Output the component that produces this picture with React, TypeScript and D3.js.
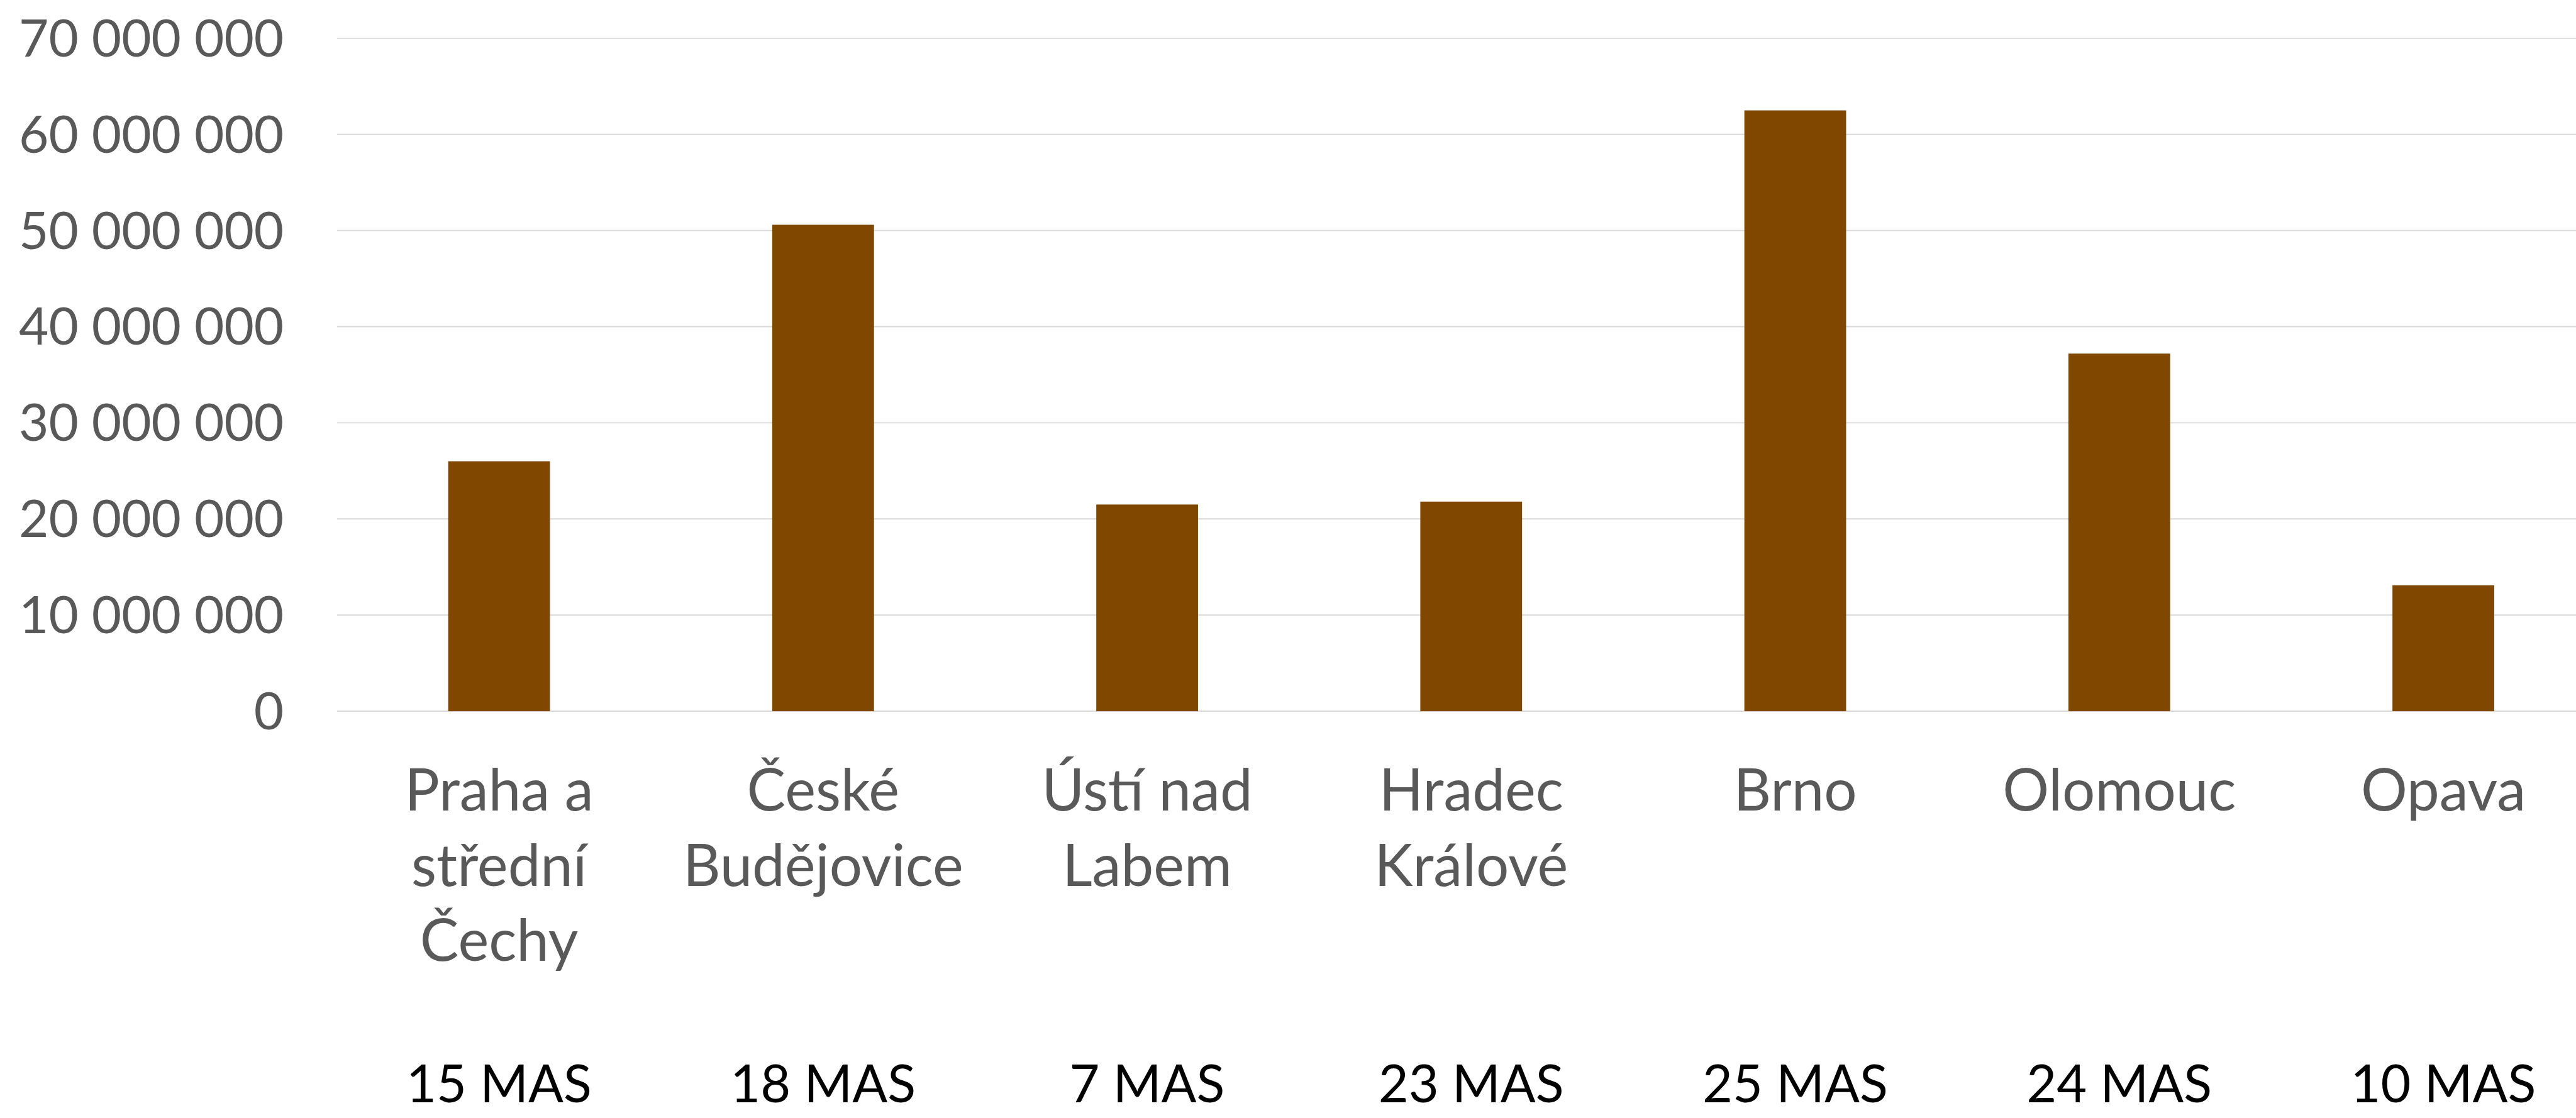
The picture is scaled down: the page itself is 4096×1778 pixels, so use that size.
import { useEffect, useRef } from "react";
import * as d3 from "d3";

// data
const categories = [
  "Praha a střední Čechy",
  "České Budějovice",
  "Ústí nad Labem",
  "Hradec Králové",
  "Brno",
  "Olomouc",
  "Opava",
];
const categoryLines = [
  ["Praha a", "střední", "Čechy"],
  ["České", "Budějovice"],
  ["Ústí nad", "Labem"],
  ["Hradec", "Králové"],
  ["Brno"],
  ["Olomouc"],
  ["Opava"],
];
const values = [26.0e6, 50.6e6, 21.5e6, 21.8e6, 62.5e6, 37.2e6, 13.1e6];
const masLabels = ["15 MAS", "18 MAS", "7 MAS", "23 MAS", "25 MAS", "24 MAS", "10 MAS"];
const yTicks = [0, 10e6, 20e6, 30e6, 40e6, 50e6, 60e6, 70e6];

const W = 4096;
const H = 1778;
const S = W / 4257; // drawn in reference units, then scaled down

export default function App() {
  const ref = useRef<SVGSVGElement>(null);

  useEffect(() => {
    const svg = d3.select(ref.current);
    svg.selectAll("*").remove();

    const margin = { top: 63.3, left: 557, bottom: 1175.5, right: 4305.5 };
    const font = "Lato, 'Open Sans', sans-serif";
    const grey = "#595959";

    const g = svg.append("g").attr("transform", `scale(${S})`);

    const x = d3
      .scaleBand()
      .domain(categories)
      .range([margin.left, margin.right])
      .paddingInner(0.686)
      .paddingOuter(0.343);

    const y = d3.scaleLinear().domain([0, 70e6]).range([margin.bottom, margin.top]);

    const fmt = d3.formatLocale({
      decimal: ",",
      thousands: " ",
      grouping: [3],
      currency: ["", ""],
    }).format(",d");

    // gridlines
    g.append("g")
      .selectAll("line")
      .data(yTicks)
      .enter()
      .append("line")
      .attr("x1", margin.left)
      .attr("x2", margin.right)
      .attr("y1", (d) => y(d))
      .attr("y2", (d) => y(d))
      .attr("stroke", "#d9d9d9")
      .attr("stroke-width", 2);

    // y labels
    g.append("g")
      .selectAll("text")
      .data(yTicks)
      .enter()
      .append("text")
      .attr("x", 469)
      .attr("y", (d) => y(d) + 30)
      .attr("text-anchor", "end")
      .attr("font-family", font)
      .attr("font-size", 85)
      .attr("fill", grey)
      .text((d) => fmt(d));

    // bars
    g.append("g")
      .selectAll("rect")
      .data(values)
      .enter()
      .append("rect")
      .attr("x", (d, i) => x(categories[i]))
      .attr("y", (d) => y(d))
      .attr("width", x.bandwidth())
      .attr("height", (d) => y(0) - y(d))
      .attr("fill", "#7F4700");

    // category labels
    const cat = g
      .append("g")
      .selectAll("text")
      .data(categoryLines)
      .enter()
      .append("text")
      .attr("text-anchor", "middle")
      .attr("font-family", font)
      .attr("font-size", 96)
      .attr("fill", grey);
    cat
      .selectAll("tspan")
      .data((d, i) => d.map((t) => ({ t, cx: x(categories[i]) + x.bandwidth() / 2 })))
      .enter()
      .append("tspan")
      .attr("x", (d) => d.cx)
      .attr("y", (d, j) => 1340 + j * 124)
      .text((d) => d.t);

    // MAS counts
    g.append("g")
      .selectAll("text")
      .data(masLabels)
      .enter()
      .append("text")
      .attr("x", (d, i) => x(categories[i]) + x.bandwidth() / 2)
      .attr("y", 1822)
      .attr("text-anchor", "middle")
      .attr("font-family", font)
      .attr("font-size", 86)
      .attr("fill", "#000")
      .text((d) => d);
  }, []);

  return (
    <svg
      ref={ref}
      width={W}
      height={H}
      style={{ position: "absolute", left: 0, top: 0, background: "#fff", display: "block" }}
    />
  );
}
